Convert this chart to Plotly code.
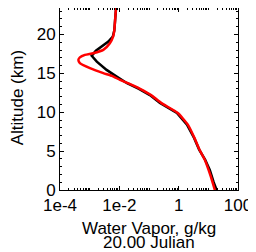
import plotly.graph_objects as go

# Altitude (km) and water vapor (g/kg)
alt_red = [0.0, 1.8, 3.9, 5.2, 6.7, 8.4, 9.9, 11.2, 12.2, 13.0, 13.73, 14.16, 14.67, 15.02, 15.66,
           16.31, 16.74, 17.05, 17.37, 17.59, 18.02, 18.88, 19.73, 20.5, 21.45, 22.5, 23.4]
wv_red = [16.6, 12.0, 7.59, 5.01, 3.39, 2.04, 0.933, 0.257, 0.1175, 0.0501, 0.0195, 0.01047, 0.00562,
          0.00288, 0.001023, 0.000468, 0.000417, 0.000468, 0.000692, 0.001318, 0.00288, 0.00479,
          0.00617, 0.00676, 0.00708, 0.00741, 0.00776]

alt_black = [0.0, 1.0, 2.57, 3.9, 5.2, 6.7, 8.4, 9.9, 11.2, 12.2, 13.0, 13.73, 14.58, 15.44, 16.51,
             17.25, 17.9, 18.44, 19.09, 19.73, 20.5, 21.45, 22.5, 23.4]
wv_black = [19.05, 15.1, 11.2, 7.76, 4.90, 3.31, 1.905, 0.871, 0.234, 0.107, 0.0457, 0.0182, 0.00813,
            0.00372, 0.00174, 0.00117, 0.00162, 0.00251, 0.00427, 0.00603, 0.00676, 0.00708, 0.00741,
            0.00776]

x_tickvals = [1e-4, 1e-2, 1, 100]
x_ticktext = ["1e-4", "1e-2", "1", "100"]
y_tickvals = [0, 5, 10, 15, 20]

FONT = "Liberation Sans, Arial, sans-serif"

fig = go.Figure()
fig.add_trace(go.Scatter(x=wv_black, y=alt_black, mode="lines",
                         line=dict(color="black", width=2.5)))
fig.add_trace(go.Scatter(x=wv_red, y=alt_red, mode="lines",
                         line=dict(color="#ff0000", width=2.5, shape="spline", smoothing=0.5)))

fig.update_xaxes(type="log", range=[-4, 2], tickmode="array", tickvals=x_tickvals,
                 ticktext=x_ticktext, ticks="inside", ticklen=4, tickcolor="black",
                 showline=True, linecolor="black", linewidth=1, mirror="allticks",
                 showgrid=False, zeroline=False, automargin=False,
                 minor=dict(dtick="D1", ticks="inside", ticklen=2, tickcolor="black", showgrid=False),
                 tickfont=dict(family=FONT, size=17, color="black"))
fig.update_yaxes(range=[0, 23.4], tickmode="array", tickvals=y_tickvals,
                 ticks="inside", ticklen=4, tickcolor="black",
                 showline=True, linecolor="black", linewidth=1, mirror="allticks",
                 showgrid=False, zeroline=False, automargin=False,
                 minor=dict(dtick=1, tick0=0, ticks="inside", ticklen=2, tickcolor="black", showgrid=False),
                 tickfont=dict(family=FONT, size=17, color="black"))

fig.add_annotation(text="Water Vapor, g/kg", xref="paper", yref="paper", x=0.5, y=-0.209,
                   xanchor="center", yanchor="middle", showarrow=False,
                   font=dict(family=FONT, size=17, color="black"))
fig.add_annotation(text="20.00 Julian", xref="paper", yref="paper", x=0.5, y=-0.291,
                   xanchor="center", yanchor="middle", showarrow=False,
                   font=dict(family=FONT, size=17, color="black"))
fig.add_annotation(text="Altitude (km)", xref="paper", yref="paper", x=-0.24, y=0.505,
                   xanchor="center", yanchor="middle", showarrow=False, textangle=-90,
                   font=dict(family=FONT, size=17, color="black"))

# page body has an 8px margin, so the figure is sized/offset to compensate
fig.update_layout(width=248, height=244, margin=dict(l=52, r=18, t=0, b=62, autoexpand=False),
                  paper_bgcolor="white", plot_bgcolor="white", showlegend=False)

fig.write_html("out.html")
